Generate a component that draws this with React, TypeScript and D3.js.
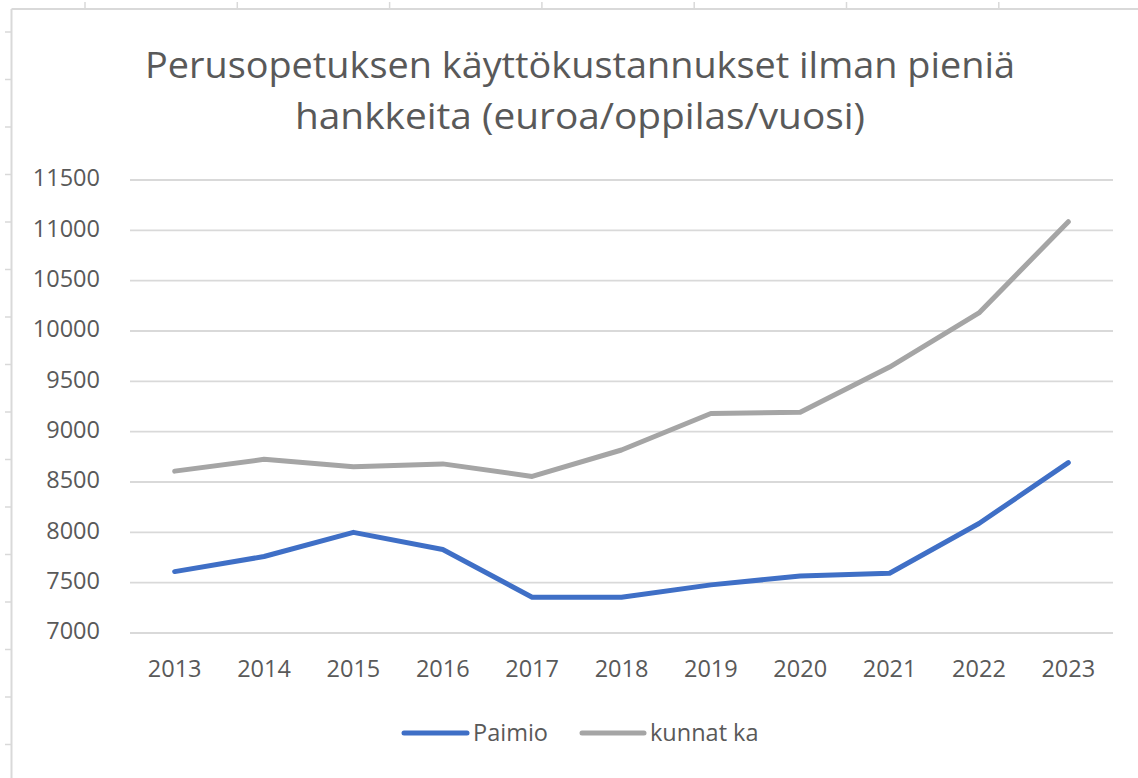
import React from "react";
import * as d3 from "d3";

const years = ["2013", "2014", "2015", "2016", "2017", "2018", "2019", "2020", "2021", "2022", "2023"];
const paimio = [7610, 7760, 8000, 7830, 7355, 7355, 7478, 7566, 7594, 8088, 8692];
const kunnatKa = [8608, 8725, 8652, 8680, 8555, 8818, 9180, 9193, 9642, 10179, 11086];
const yTicks = [7000, 7500, 8000, 8500, 9000, 9500, 10000, 10500, 11000, 11500];
const titleLines = ["Perusopetuksen käyttökustannukset ilman pieniä", "hankkeita (euroa/oppilas/vuosi)"];
const seriesNames = ["Paimio", "kunnat ka"];

const W = 1138;
const H = 778;
const TEXT = "#595959";
const GRID = "#D9D9D9";
const BLUE = "#3F6FC6";
const GRAY = "#A5A5A5";
const FONT = "'Open Sans', 'Noto Sans', sans-serif";

export default function App() {
  const x = d3.scalePoint<string>().domain(years).range([130, 1113]).padding(0.5);
  const y = d3.scaleLinear().domain([7000, 11500]).range([633, 180]);
  const line = d3
    .line<number>()
    .x((_, i) => x(years[i]) as number)
    .y((d) => y(d));

  const leftTicks = d3.range(32, H, 47.5);
  const topTicks = d3.range(85, W, 152.3);

  return (
    <svg
      width={W}
      height={H}
      style={{ position: "absolute", left: 0, top: 0, background: "#fff" }}
      fontFamily={FONT}
    >
      {/* sheet frame */}
      <line x1={11.5} x2={11.5} y1={9} y2={H} stroke={GRID} strokeWidth={2} />
      <line x1={11.5} x2={W} y1={9} y2={9} stroke={GRID} strokeWidth={2} />
      {leftTicks.map((t, i) => (
        <line key={"lt" + i} x1={5} x2={11} y1={t} y2={t} stroke={GRID} strokeWidth={1.5} />
      ))}
      {topTicks.map((t, i) => (
        <line key={"tt" + i} x1={t} x2={t} y1={2} y2={9} stroke={GRID} strokeWidth={1.5} />
      ))}

      {/* title */}
      <text x={580} y={78} textAnchor="middle" fontSize={36} fill={TEXT} textLength={870} lengthAdjust="spacingAndGlyphs">
        {titleLines[0]}
      </text>
      <text x={580} y={129} textAnchor="middle" fontSize={36} fill={TEXT} textLength={570} lengthAdjust="spacingAndGlyphs">
        {titleLines[1]}
      </text>

      {/* gridlines */}
      {yTicks.map((t) => (
        <line key={"g" + t} x1={130} x2={1113} y1={y(t)} y2={y(t)} stroke={GRID} strokeWidth={1.8} />
      ))}

      {/* y labels */}
      {yTicks.map((t) => (
        <text key={"yl" + t} x={100} y={y(t) - 2} dy="0.35em" textAnchor="end" fontSize={23.5} fill={TEXT}>
          {t}
        </text>
      ))}

      {/* x labels */}
      {years.map((yr) => (
        <text key={"xl" + yr} x={x(yr)} y={677} textAnchor="middle" fontSize={23.5} fill={TEXT}>
          {yr}
        </text>
      ))}

      {/* series */}
      <path d={line(kunnatKa) || ""} fill="none" stroke={GRAY} strokeWidth={5} strokeLinejoin="round" strokeLinecap="round" />
      <path d={line(paimio) || ""} fill="none" stroke={BLUE} strokeWidth={5} strokeLinejoin="round" strokeLinecap="round" />

      {/* legend */}
      <line x1={404} x2={467} y1={733} y2={733} stroke={BLUE} strokeWidth={5} strokeLinecap="round" />
      <text x={473} y={741} fontSize={23.5} fill={TEXT}>{seriesNames[0]}</text>
      <line x1={582} x2={644} y1={733} y2={733} stroke={GRAY} strokeWidth={5} strokeLinecap="round" />
      <text x={650} y={741} fontSize={23.5} fill={TEXT}>{seriesNames[1]}</text>
    </svg>
  );
}
